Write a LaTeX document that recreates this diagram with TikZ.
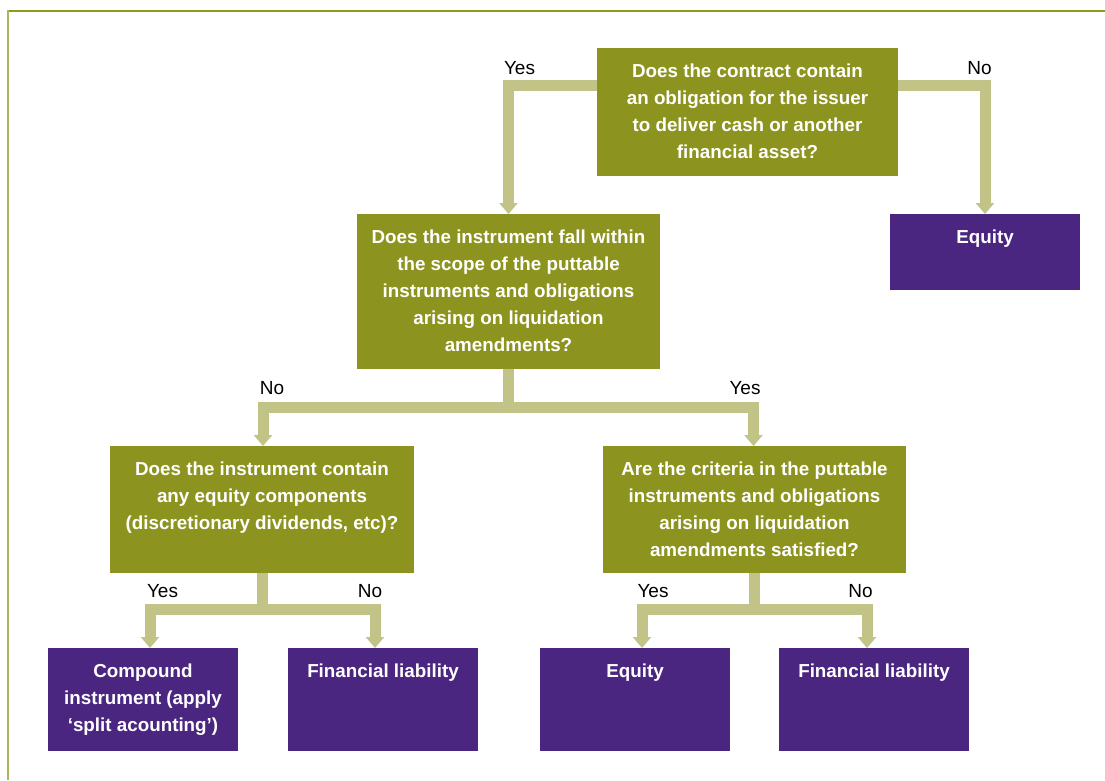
\documentclass[tikz,border=0pt]{standalone}
\usepackage{fontspec}
\setmainfont{Liberation Sans}
\usetikzlibrary{arrows.meta,calc}
\definecolor{olivebox}{HTML}{8C941F}
\definecolor{purplebox}{HTML}{4A2681}
\definecolor{arrowcol}{HTML}{C2C487}
\definecolor{bordertop}{HTML}{8D9A1C}
\definecolor{borderleft}{HTML}{AAB55C}
\newcommand{\boxtxt}[3]{\parbox[c][#2][t]{#1}{\centering\fontsize{18.8}{27}\selectfont\bfseries\rule{0pt}{29pt}#3}}
\tikzset{
  gbox/.style={fill=olivebox, text=white, inner sep=0pt, outer sep=0pt},
  pbox/.style={fill=purplebox, text=white, inner sep=0pt, outer sep=0pt},
  conn/.style={draw=arrowcol, line width=11pt, line join=miter, -{Triangle[width=18pt,length=11pt]}},
  lbl/.style={font=\fontsize{19}{22}\selectfont, text=black, inner sep=0pt}
}
\begin{document}
\begin{tikzpicture}[x=1pt,y=-1pt]
\useasboundingbox (0,0) rectangle (1105,780);
% frame
\draw[bordertop, line width=2pt] (7,11) -- (1105,11);
\draw[borderleft, line width=2pt] (8,10) -- (8,780);
% boxes
\node[gbox] (b1) at (747.5,112) {\boxtxt{301pt}{128pt}{Does the contract contain\\an obligation for the issuer\\to deliver cash or another\\financial asset?}};
\node[gbox] (b2) at (508.5,291.5) {\boxtxt{303pt}{155pt}{Does the instrument fall within\\the scope of the puttable\\instruments and obligations\\arising on liquidation\\amendments?}};
\node[pbox] (e1) at (985,252) {\boxtxt{190pt}{76pt}{Equity}};
\node[gbox] (b3) at (262,509.5) {\boxtxt{304pt}{127pt}{Does the instrument contain\\any equity components\\(discretionary dividends, etc)?}};
\node[gbox] (b4) at (754.5,509.5) {\boxtxt{303pt}{127pt}{Are the criteria in the puttable\\instruments and obligations\\arising on liquidation\\amendments satisfied?}};
\node[pbox] (d1) at (143,699.5) {\boxtxt{190pt}{103pt}{Compound\\instrument (apply\\‘split acounting’)}};
\node[pbox] (d2) at (383,699.5) {\boxtxt{190pt}{103pt}{Financial liability}};
\node[pbox] (d3) at (635,699.5) {\boxtxt{190pt}{103pt}{Equity}};
\node[pbox] (d4) at (874,699.5) {\boxtxt{190pt}{103pt}{Financial liability}};
% connectors
\draw[conn] ($(b1.north west)+(0,37)$) -| (b2.north);
\draw[conn] ($(b1.north east)+(0,37)$) -| (e1.north);
\draw[conn] (b2.south) -- ++(0,38) -| ([xshift=1pt]b3.north);
\draw[conn] (b2.south) -- ++(0,38) -| ([xshift=-1pt]b4.north);
\draw[conn] (b3.south) -- ++(0,36) -| ([xshift=7pt]d1.north);
\draw[conn] (b3.south) -- ++(0,36) -| ([xshift=-8pt]d2.north);
\draw[conn] (b4.south) -- ++(0,36) -| ([xshift=7pt]d3.north);
\draw[conn] (b4.south) -- ++(0,36) -| ([xshift=-7pt]d4.north);
% labels
\node[lbl] (l1) at (519.5,68) {Yes};
\node[lbl] (l2) at (979.5,68) {No};
\node[lbl] (l3) at (272,388) {No};
\node[lbl] (l4) at (745,388) {Yes};
\node[lbl] (l5) at (162.5,591) {Yes};
\node[lbl] (l6) at (370,591) {No};
\node[lbl] (l7) at (653,591) {Yes};
\node[lbl] (l8) at (860.5,591) {No};
\end{tikzpicture}
\end{document}
